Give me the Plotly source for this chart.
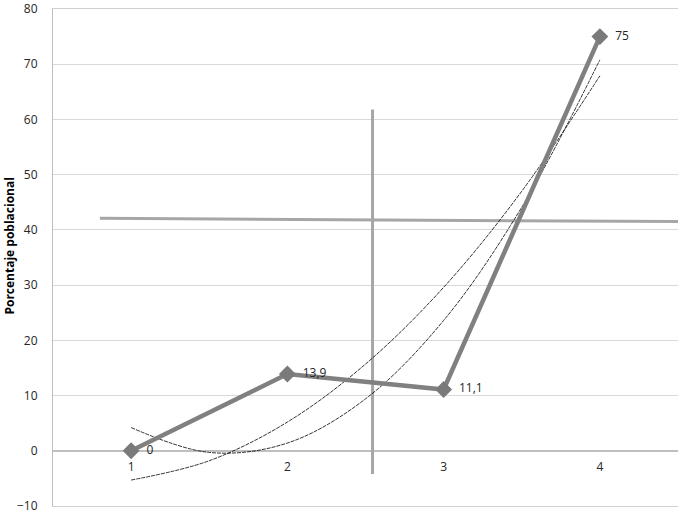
import plotly.graph_objects as go

# categories and the series values
categorias = [1, 2, 3, 4]
porcentaje = [0, 13.9, 11.1, 75]
etiquetas = ["0", "13,9", "11,1", "75"]

# the two thin trend curves at half steps
tend_x = [1, 1.5, 2, 2.5, 3, 3.5, 4]
tend_a = [4.2, -0.3, 1.4, 9.4, 23.6, 44.1, 70.8]
tend_b = [-5.3, -1.8, 5.2, 15.7, 29.6, 47.0, 67.9]

# the two grey guide lines
guia_h_x = [0.8, 4.5]
guia_h_y = [42.1, 41.5]
guia_v_x = [2.545, 2.545]
guia_v_y = [61.8, -4.2]

fuente = "Open Sans"

fig = go.Figure()

# guide lines
fig.add_trace(go.Scatter(x=guia_h_x, y=guia_h_y, mode="lines",
                         line=dict(color="#a6a6a6", width=3)))
fig.add_trace(go.Scatter(x=guia_v_x, y=guia_v_y, mode="lines",
                         line=dict(color="#a6a6a6", width=3)))

# trendlines
for t in [tend_a, tend_b]:
    fig.add_trace(go.Scatter(x=tend_x, y=t, mode="lines", line_shape="spline",
                             line=dict(color="#000000", width=0.8, dash="4px,1px")))

# the main series
fig.add_trace(go.Scatter(
    x=categorias, y=porcentaje, mode="lines+markers+text",
    line=dict(color="#808080", width=4.5),
    marker=dict(symbol="diamond", size=13, color="#7a7a7a"),
    text=["  " + e for e in etiquetas], textposition="middle right",
    textfont=dict(family=fuente, size=12, color="#262626"),
))

# category labels sit next to the zero line, like in excel
fig.add_trace(go.Scatter(
    x=categorias, y=[-3.2] * len(categorias), mode="text",
    text=[str(c) for c in categorias],
    textfont=dict(family=fuente, size=12, color="#262626"),
))

fig.update_layout(
    width=680, height=515,
    margin=dict(l=53, r=2, t=9, b=9),
    paper_bgcolor="#ffffff", plot_bgcolor="#ffffff",
    showlegend=False,
    font=dict(family=fuente, size=12, color="#262626"),
)

# top and bottom border lines come from the mirrored x axis line
fig.update_xaxes(range=[0.5, 4.5], showgrid=False, zeroline=False,
                 showticklabels=False, showline=True, mirror=True,
                 linecolor="#d0d0d0", linewidth=1, automargin=False)

fig.update_yaxes(range=[-10, 80], dtick=10, showgrid=True, gridcolor="#d9d9d9",
                 gridwidth=1, zeroline=True, zerolinecolor="#bfbfbf", zerolinewidth=1.5,
                 showline=True, linecolor="#bfbfbf", linewidth=1,
                 ticks="", ticklabelstandoff=12, automargin=False,
                 ticklabeloverflow="allow",
                 tickfont=dict(family=fuente, size=12, color="#262626"))

# axis title as an annotation so it stays put
fig.add_annotation(text="<b>Porcentaje poblacional</b>", xref="paper", yref="paper",
                   x=0, y=0.522, xanchor="center", yanchor="middle", xshift=-43,
                   textangle=-90, showarrow=False,
                   font=dict(family=fuente, size=12, color="#000000"))

# body margin would push the whole figure 8px down and right
fig.write_html("out.html", config={"displayModeBar": False},
               post_script="document.body.style.margin='0';")
